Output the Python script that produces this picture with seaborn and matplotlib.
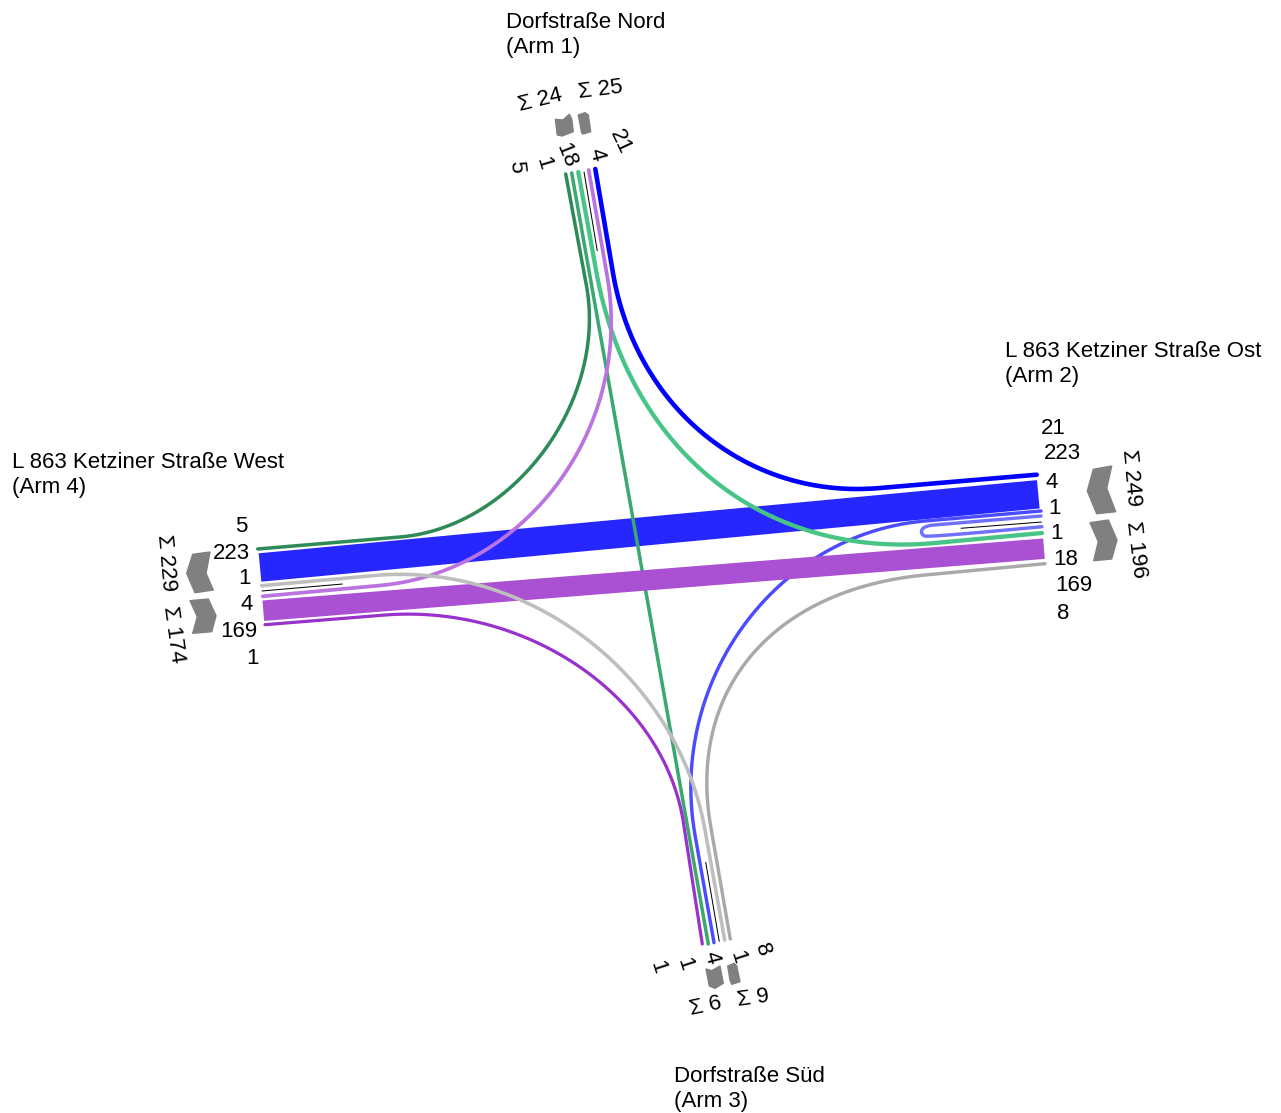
import matplotlib
matplotlib.use("Agg")
import matplotlib.pyplot as plt
import numpy as np
import pandas as pd
import seaborn as sns

# ---------- flow paths (pixel coordinates of the diagram) ----------
# each turning flow: arm end, start of bend, corner where both straight parts would meet,
# end of bend, other arm end
wide_blue_x = [260.0, 1038.3]
wide_blue_y = [567.5, 494.3]
wide_purple_x = [263.3, 1044.0]
wide_purple_y = [610.7, 548.7]

blue_x = [595.3, 613.5, 655.5, 880, 1036.7]
blue_y = [169, 276, 508, 488, 474.7]
bluish_x = [1041, 925, 644, 695, 714]
bluish_y = [511, 521, 545, 835, 942.7]
dark_green_x = [565.7, 586.7, 626.6, 400, 257.7]
dark_green_y = [174, 287, 518, 537, 549]
light_green_x = [578.3, 596, 649, 935, 1042]
light_green_y = [172, 270, 569.7, 543, 533]
orchid_x = [588.7, 607, 658, 380, 262.7]
orchid_y = [170, 275, 560, 585.5, 596.3]
dark_purple_x = [265, 385, 645, 683, 702.3]
dark_purple_y = [624.7, 615, 595, 820, 944]
silver_x = [261.7, 375, 655.7, 705, 724.7]
silver_y = [585.7, 575.5, 550.2, 830, 940]
gray_x = [1045, 925, 670, 711, 730.3]
gray_y = [563.7, 575, 599, 828, 939]

uturn_x = [1041, 940, 928, 921.5, 921.5, 928, 1042]
uturn_y = [516, 524.5, 525.5, 529, 534.5, 537.5, 526.7]

straight_x = [571.7, 708.3]
straight_y = [173, 944]

black_n_x, black_n_y = [584, 597.3], [171.7, 251]
black_e_x, black_e_y = [960.7, 1041.7], [528.3, 522]
black_w_x, black_w_y = [261.7, 342.7], [591, 584]
black_s_x, black_s_y = [705.7, 719.3], [862, 941.7]

# ---------- chevrons ----------
chevrons = [
    ([1093.3, 1111.7, 1106.7, 1115.7, 1096.7, 1087.3], [469.3, 466, 488.3, 511.7, 513.7, 491]),
    ([1090, 1108.3, 1117, 1111.7, 1093.7, 1098.3], [522.7, 520, 540, 559, 560.7, 541.7]),
    ([192.7, 210, 206, 213.3, 195, 186.7], [554.3, 552, 573.3, 590, 592.7, 573.3]),
    ([190, 208.3, 216, 211.7, 192.7, 197.3], [600.7, 599, 615.7, 631.7, 633.3, 616.7]),
    ([555.3, 563, 569.3, 571.7, 573.3, 562, 557.3], [119.3, 120, 114.3, 119, 131.7, 136, 135]),
    ([578.3, 585, 588.3, 590.7, 583.3, 581.7], [115, 112.7, 115, 131.7, 134, 133]),
    ([706, 711.7, 720, 723.3, 715, 709.3], [969, 970.7, 966, 983.3, 988.3, 986]),
    ([727.7, 734.3, 736.7, 740, 731.7, 730], [966, 963.3, 966, 981.7, 984.3, 980]),
]

# ---------- labels ----------
arm_names = ["Dorfstraße Nord\n(Arm 1)", "L 863 Ketziner Straße Ost\n(Arm 2)",
             "Dorfstraße Süd\n(Arm 3)", "L 863 Ketziner Straße West\n(Arm 4)"]
arm_x = [506, 1005, 674, 12]
arm_y = [35, 364, 1089, 475]

flow_labels = ["5", "1", "18", "4", "21",
               "21", "223", "4", "1", "1", "18", "169", "8",
               "5", "223", "1", "4", "169", "1",
               "1", "1", "4", "1", "8"]
flow_x = [516, 543, 566, 596, 620,
          1053, 1062, 1052, 1054, 1057, 1066, 1074, 1063,
          241, 231, 245, 247, 239, 252,
          657, 684, 711, 737, 762]
flow_y = [167, 163, 155, 155, 142,
          428.5, 453.5, 482.5, 508.5, 533.5, 559.5, 585.5, 613.5,
          526.5, 553.5, 578.5, 604.5, 631.5, 658.5,
          967, 964, 958, 957, 950]
flow_rot = [-85, -73, -68, -75, -65,
            0, 0, 0, 0, 0, 0, 0, 0,
            0, 0, 0, 0, 0, 0,
            -72, -72, -75, -72, -70]

sum_labels = ["Σ 24", "Σ 25", "Σ 249", "Σ 196", "Σ 6", "Σ 9", "Σ 229", "Σ 174"]
sum_x = [540, 600, 1131, 1135.5, 706, 753, 166, 173]
sum_y = [100, 90, 478, 550, 1006, 998, 563, 635]
sum_rot = [14, 7, -85, -83, 12, 8, -85, -82]

sns.set_theme(style="white")
plt.rcParams["font.family"] = ["Liberation Sans", "DejaVu Sans"]

fig = plt.figure(figsize=(12.81, 11.13), dpi=100, facecolor="white")
ax = fig.add_axes([0, 0, 1, 1])
ax.set_xlim(0, 1281)
ax.set_ylim(1113, 0)
ax.axis("off")


def px(width):
    return width * 72 / 100


def line(xs, ys, colour, width, cap="round"):
    frame = pd.DataFrame({"x": xs, "y": ys})
    sns.lineplot(data=frame, x="x", y="y", sort=False, estimator=None, color=colour,
                 linewidth=px(width), solid_capstyle=cap, solid_joinstyle="round",
                 legend=False, ax=ax)


def bend(values, pull):
    """Straight part, cubic bend pulled towards the corner, straight part."""
    a, p0, corner, p3, b = values
    c1 = p0 + pull * (corner - p0)
    c2 = p3 + pull * (corner - p3)
    t = np.linspace(0, 1, 60)
    curve = (1 - t) ** 3 * p0 + 3 * t * (1 - t) ** 2 * c1 + 3 * t ** 2 * (1 - t) * c2 + t ** 3 * p3
    return np.concatenate([[a], curve, [b]])


def turn(xs, ys, colour, width, pull):
    line(bend(np.array(xs, float), pull), bend(np.array(ys, float), pull), colour, width)


def rounded(values):
    """Round the corners of a read polyline: each inner point acts as a quadratic control point."""
    p = np.asarray(values, dtype=float)
    mids = (p[:-1] + p[1:]) / 2
    mids[0], mids[-1] = p[0], p[-1]
    t = np.linspace(0, 1, 14)[:, None]
    parts = [(1 - t) ** 2 * mids[i] + 2 * t * (1 - t) * p[i + 1] + t ** 2 * mids[i + 1]
             for i in range(len(p) - 2)]
    return np.concatenate(parts).ravel()


line(wide_blue_x, wide_blue_y, "#2626FF", 28.5, "butt")
turn(blue_x, blue_y, "#0000FF", 4.6, 0.58)
turn(bluish_x, bluish_y, "#4B4BFF", 3.4, 0.53)
line(rounded(uturn_x), rounded(uturn_y), "#7070FF", 3.4)
line(straight_x, straight_y, "#3AA870", 3.5)
turn(dark_green_x, dark_green_y, "#2E8B57", 3.5, 0.50)
turn(light_green_x, light_green_y, "#48C487", 4.3, 0.60)
turn(orchid_x, orchid_y, "#BA73E0", 3.7, 0.53)
for bx, by in [(black_n_x, black_n_y), (black_e_x, black_e_y),
               (black_w_x, black_w_y), (black_s_x, black_s_y)]:
    line(bx, by, "#000000", 1, "butt")
line(wide_purple_x, wide_purple_y, "#AA50D2", 20.5, "butt")
turn(dark_purple_x, dark_purple_y, "#9932CC", 3.2, 0.55)
turn(silver_x, silver_y, "#BEBEBE", 3.6, 0.55)
turn(gray_x, gray_y, "#A9A9A9", 3.4, 0.60)

for cx, cy in chevrons:
    ax.fill(cx, cy, color="#808080", lw=1, joinstyle="round")

for t, x, y in zip(arm_names, arm_x, arm_y):
    ax.text(x, y, t, fontsize=16, ha="left", va="center", linespacing=1.24, color="black")
for t, x, y, r in zip(flow_labels, flow_x, flow_y, flow_rot):
    ax.text(x, y, t, fontsize=16, ha="center", va="center", rotation=r,
            rotation_mode="anchor", color="black")
for t, x, y, r in zip(sum_labels, sum_x, sum_y, sum_rot):
    ax.text(x, y, t, fontsize=16, ha="center", va="center", rotation=r,
            rotation_mode="anchor", color="black")

fig.savefig("out.png", dpi=100, facecolor="white")
